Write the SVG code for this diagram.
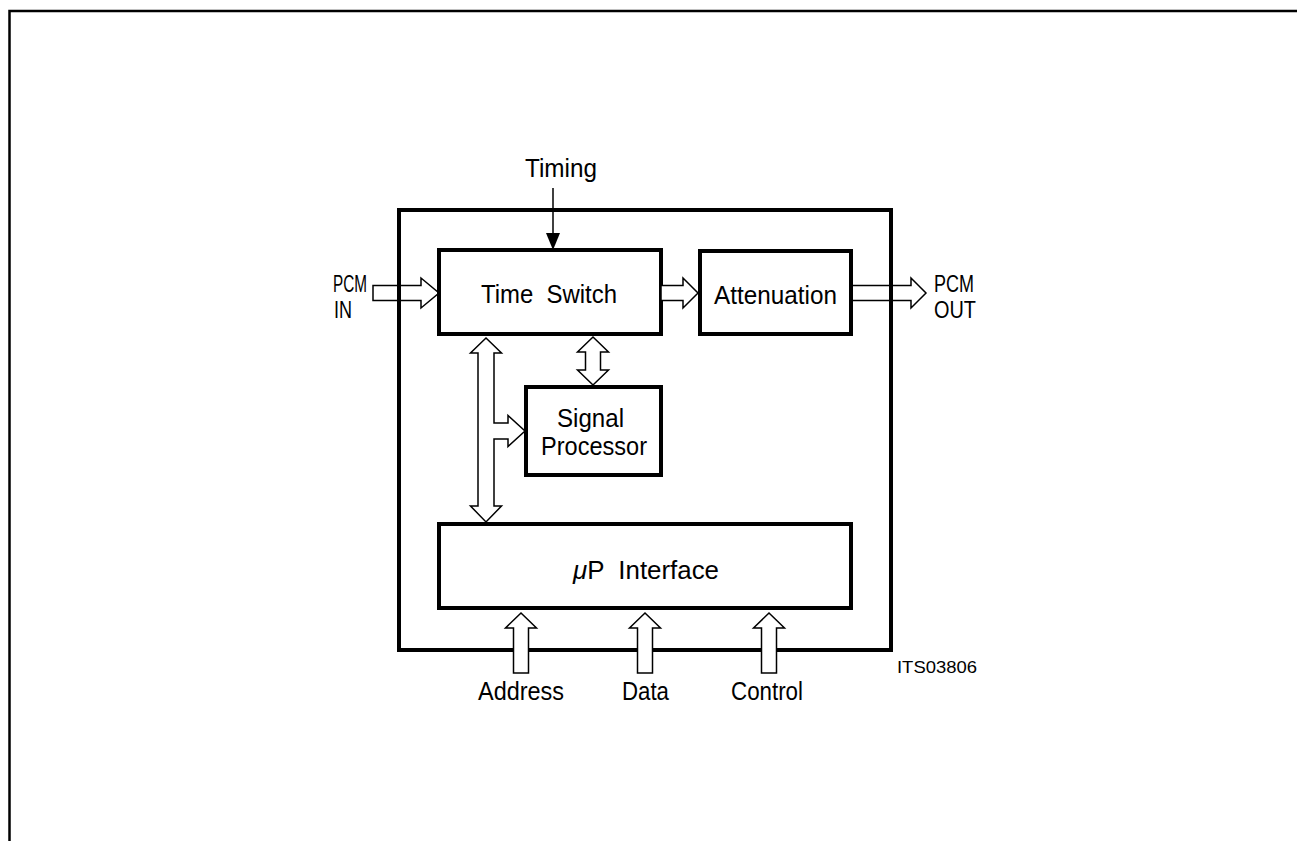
<svg xmlns="http://www.w3.org/2000/svg" width="1297" height="841" viewBox="0 0 1297 841">
<style>
text{font-family:"Liberation Sans",Arial,sans-serif;font-size:26px;fill:#000}
.box{fill:#fff;stroke:#000;stroke-width:4}
.harrow{fill:#fff;stroke:#000;stroke-width:1.5;stroke-linejoin:miter}
.small{font-size:17px}
.pcm{font-size:23px}
</style>
<rect width="1297" height="841" fill="#fff"/>
<polyline points="9.5,841 9.5,11 1297,11" fill="none" stroke="#000" stroke-width="2.5"/>
<g id="connectors">
<polygon id="pcm-in-arrow" class="harrow" points="373,285.5 421,285.5 421,278 439,293 421,308 421,300.5 373,300.5"/>
<polygon id="pcm-out-arrow" class="harrow" points="851,285.5 911,285.5 911,278 926,293 911,308 911,300.5 851,300.5"/>
</g>
<rect id="outer" x="399" y="210" width="492" height="440" fill="none" stroke="#000" stroke-width="4"/>
<g id="time-switch"><rect class="box" x="439" y="250" width="222" height="84"/><text x="481" y="303" textLength="136" lengthAdjust="spacingAndGlyphs" xml:space="preserve">Time  Switch</text></g>
<g id="attenuation"><rect class="box" x="700" y="251" width="151" height="83"/><text x="714" y="304" textLength="123" lengthAdjust="spacingAndGlyphs">Attenuation</text></g>
<g id="signal-processor"><rect class="box" x="526" y="387" width="135" height="88"/><text x="557" y="427" textLength="67" lengthAdjust="spacingAndGlyphs">Signal</text><text x="541" y="455" textLength="106" lengthAdjust="spacingAndGlyphs">Processor</text></g>
<g id="up-interface"><rect class="box" x="439" y="524" width="412" height="84"/><text x="573" y="579" textLength="146" lengthAdjust="spacingAndGlyphs" xml:space="preserve"><tspan font-style="italic">μ</tspan>P  Interface</text></g>
<g id="connectors2">
<line x1="553" y1="188" x2="553" y2="236" stroke="#000" stroke-width="1.5"/>
<polygon points="546,233 560,233 553,250" fill="#000"/>
<polygon class="harrow" points="661,285.5 683,285.5 683,278 698,293 683,308 683,300.5 661,300.5"/>
<polygon class="harrow" points="593,337 608.5,352 600.5,352 600.5,370 608.5,370 593,385 577.5,370 585.5,370 585.5,352 577.5,352"/>
<polygon class="harrow" points="486,338 501.5,353 494,353 494,423 508,423 508,415.5 525,431 508,446.5 508,439 494,439 494,506 501.5,506 486,522 470.5,506 478,506 478,353 470.5,353"/>
<polygon class="harrow" points="521,613 536.5,628 528.5,628 528.5,673 513.5,673 513.5,628 505.5,628"/>
<polygon class="harrow" points="645,613 660.5,628 652.5,628 652.5,673 637.5,673 637.5,628 629.5,628"/>
<polygon class="harrow" points="769,613 784.5,628 776.5,628 776.5,673 761.5,673 761.5,628 753.5,628"/>
</g>
<g id="labels">
<text x="525" y="177" textLength="72" lengthAdjust="spacingAndGlyphs">Timing</text>
<text class="pcm" x="333" y="292" textLength="34" lengthAdjust="spacingAndGlyphs">PCM</text>
<text class="pcm" x="334" y="318" textLength="18" lengthAdjust="spacingAndGlyphs">IN</text>
<text class="pcm" x="934" y="292" textLength="40" lengthAdjust="spacingAndGlyphs">PCM</text>
<text class="pcm" x="934" y="318" textLength="42" lengthAdjust="spacingAndGlyphs">OUT</text>
<text x="478" y="700" textLength="86" lengthAdjust="spacingAndGlyphs">Address</text>
<text x="622" y="700" textLength="47" lengthAdjust="spacingAndGlyphs">Data</text>
<text x="731" y="700" textLength="72" lengthAdjust="spacingAndGlyphs">Control</text>
<text class="small" x="897" y="673" textLength="80" lengthAdjust="spacingAndGlyphs">ITS03806</text>
</g>
</svg>
